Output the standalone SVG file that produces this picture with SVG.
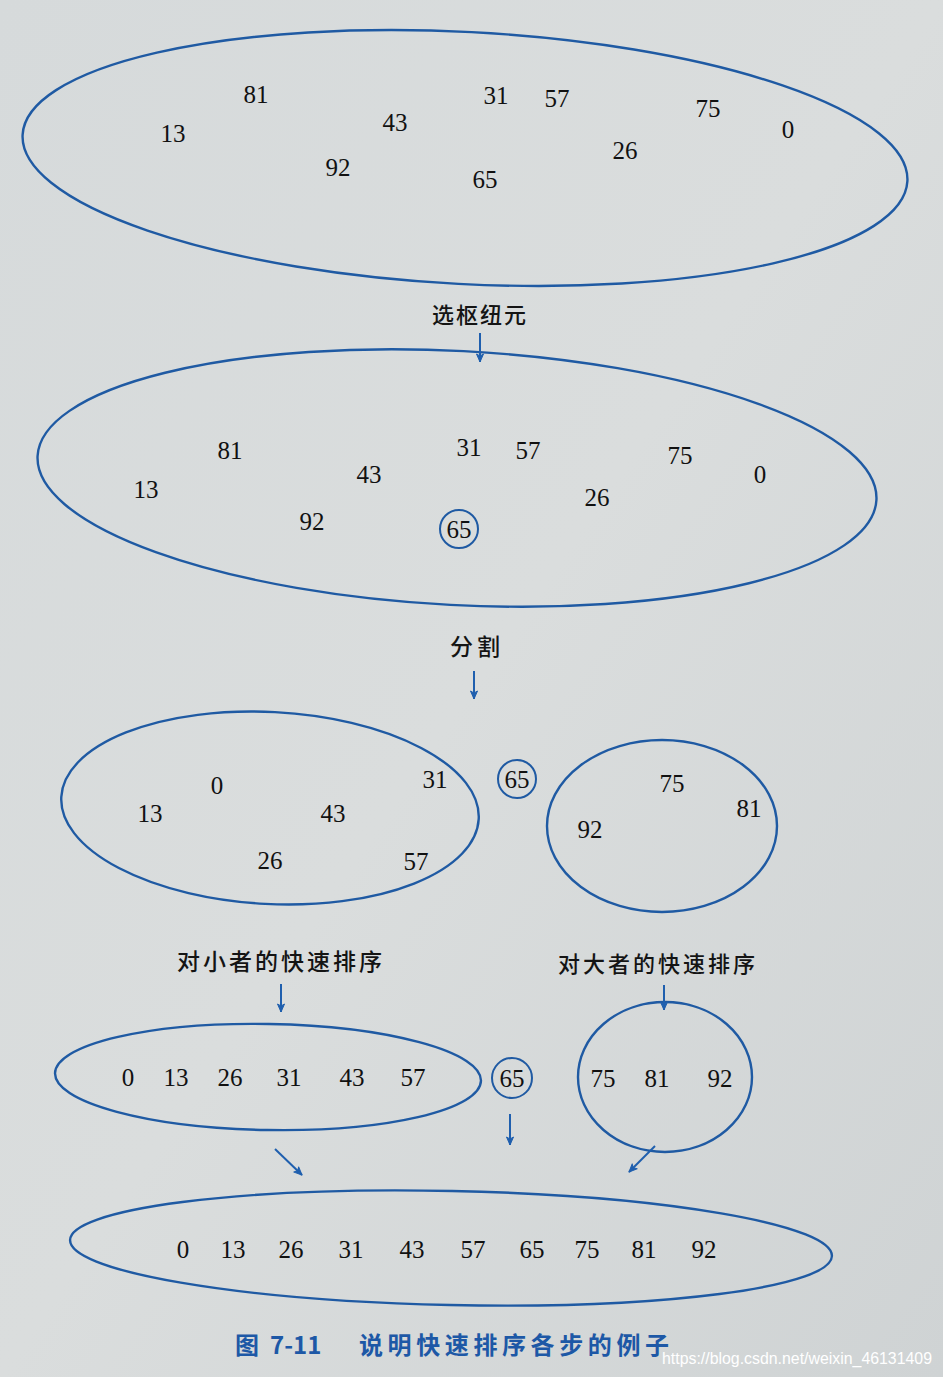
<svg xmlns="http://www.w3.org/2000/svg" width="943" height="1377" viewBox="0 0 943 1377">
<defs>
<linearGradient id="bg" x1="0" y1="0" x2="1" y2="1">
<stop offset="0" stop-color="#d6dadb"/>
<stop offset="0.5" stop-color="#dadddd"/>
<stop offset="1" stop-color="#cfd3d4"/>
</linearGradient>
<marker id="ah" viewBox="0 0 10 10" refX="9" refY="5" markerWidth="10" markerHeight="10" orient="auto" markerUnits="userSpaceOnUse">
<path d="M1,1.5 L9,5 L1,8.5 L3,5 Z" fill="#1f5fae" stroke="#1f5fae" stroke-width="1" stroke-linejoin="round"/>
</marker>
<style>
.e{fill:none;stroke:#1f5aa3;stroke-width:2.4}
.c{fill:none;stroke:#1f5aa3;stroke-width:2}
.n{font-family:"Liberation Serif","Times New Roman",serif;font-size:25px;fill:#111111;text-anchor:middle;dominant-baseline:central}
.l{font-family:"Noto Sans CJK SC",sans-serif;font-size:23px;font-weight:500;fill:#141414;text-anchor:middle;dominant-baseline:central}
.a{stroke:#1f5fae;stroke-width:2;fill:none;marker-end:url(#ah)}
.cap{font-family:"Noto Sans CJK SC",sans-serif;font-size:24px;font-weight:700;fill:#1d58a6;dominant-baseline:central}
.wm{font-family:"Liberation Sans",Arial,sans-serif;font-size:16px;fill:#ffffff;dominant-baseline:central}
</style>
</defs>
<rect width="943" height="1377" fill="url(#bg)"/>

<g id="set1">
<ellipse class="e" cx="465" cy="158" rx="443" ry="126" transform="rotate(3 465 158)"/>
<text class="n" x="256" y="94">81</text>
<text class="n" x="173" y="133">13</text>
<text class="n" x="395" y="122">43</text>
<text class="n" x="338" y="167">92</text>
<text class="n" x="496" y="95">31</text>
<text class="n" x="557" y="98">57</text>
<text class="n" x="485" y="179">65</text>
<text class="n" x="708" y="108">75</text>
<text class="n" x="625" y="150">26</text>
<text class="n" x="788" y="129">0</text>
</g>

<g id="label-pivot">
<text class="l" x="480" y="313" style="font-size:22px;letter-spacing:2px">选枢纽元</text>
</g>

<g id="set2">
<ellipse class="e" cx="457" cy="478" rx="420" ry="127" transform="rotate(3 457 478)"/>
<text class="n" x="230" y="450">81</text>
<text class="n" x="146" y="489">13</text>
<text class="n" x="369" y="474">43</text>
<text class="n" x="312" y="521">92</text>
<text class="n" x="469" y="447">31</text>
<text class="n" x="528" y="450">57</text>
<circle class="c" cx="459" cy="529" r="19"/>
<text class="n" x="459" y="529">65</text>
<text class="n" x="680" y="455">75</text>
<text class="n" x="597" y="497">26</text>
<text class="n" x="760" y="474">0</text>
</g>

<g id="label-partition">
<text class="l" x="477" y="645" style="letter-spacing:4px">分割</text>
</g>

<g id="small1">
<ellipse class="e" cx="270" cy="808" rx="209" ry="96" transform="rotate(3 270 808)"/>
<text class="n" x="217" y="785">0</text>
<text class="n" x="435" y="779">31</text>
<text class="n" x="150" y="813">13</text>
<text class="n" x="333" y="813">43</text>
<text class="n" x="270" y="860">26</text>
<text class="n" x="416" y="861">57</text>
</g>

<g id="pivot1">
<circle class="c" cx="517" cy="779" r="19"/>
<text class="n" x="517" y="779">65</text>
</g>

<g id="large1">
<ellipse class="e" cx="662" cy="826" rx="115" ry="86"/>
<text class="n" x="672" y="783">75</text>
<text class="n" x="749" y="808">81</text>
<text class="n" x="590" y="829">92</text>
</g>

<g id="label-small">
<text class="l" x="281" y="960" style="letter-spacing:3px">对小者的快速排序</text>
</g>
<g id="label-large">
<text class="l" x="658" y="962" style="font-size:22px;letter-spacing:3px">对大者的快速排序</text>
</g>

<g id="small2">
<ellipse class="e" cx="268" cy="1077" rx="213" ry="53" transform="rotate(1 268 1077)"/>
<text class="n" x="128" y="1077">0</text>
<text class="n" x="176" y="1077">13</text>
<text class="n" x="230" y="1077">26</text>
<text class="n" x="289" y="1077">31</text>
<text class="n" x="352" y="1077">43</text>
<text class="n" x="413" y="1077">57</text>
</g>

<g id="pivot2">
<circle class="c" cx="512" cy="1078" r="20"/>
<text class="n" x="512" y="1078">65</text>
</g>

<g id="large2">
<ellipse class="e" cx="665" cy="1077" rx="87" ry="75"/>
<text class="n" x="603" y="1078">75</text>
<text class="n" x="657" y="1078">81</text>
<text class="n" x="720" y="1078">92</text>
</g>

<g id="result">
<ellipse class="e" cx="451" cy="1248" rx="381" ry="57" transform="rotate(1.2 451 1248)"/>
<text class="n" x="183" y="1249">0</text>
<text class="n" x="233" y="1249">13</text>
<text class="n" x="291" y="1249">26</text>
<text class="n" x="351" y="1249">31</text>
<text class="n" x="412" y="1249">43</text>
<text class="n" x="473" y="1249">57</text>
<text class="n" x="532" y="1249">65</text>
<text class="n" x="587" y="1249">75</text>
<text class="n" x="644" y="1249">81</text>
<text class="n" x="704" y="1249">92</text>
</g>

<g id="connectors">
<line class="a" x1="480" y1="333" x2="480" y2="362"/>
<line class="a" x1="474" y1="671" x2="474" y2="699"/>
<line class="a" x1="281" y1="984" x2="281" y2="1012"/>
<line class="a" x1="664" y1="985" x2="664" y2="1010"/>
<line class="a" x1="275" y1="1149" x2="302" y2="1175"/>
<line class="a" x1="510" y1="1114" x2="510" y2="1145"/>
<line class="a" x1="655" y1="1146" x2="629" y2="1172"/>
</g>

<g id="caption">
<text class="cap" x="235" y="1343">图</text>
<text class="cap" x="270" y="1343">7-11</text>
<text class="cap" x="359" y="1343" style="letter-spacing:4.6px">说明快速排序各步的例子</text>
<text class="wm" x="662" y="1358" textLength="270" lengthAdjust="spacingAndGlyphs">https://blog.csdn.net/weixin_46131409</text>
</g>
</svg>
